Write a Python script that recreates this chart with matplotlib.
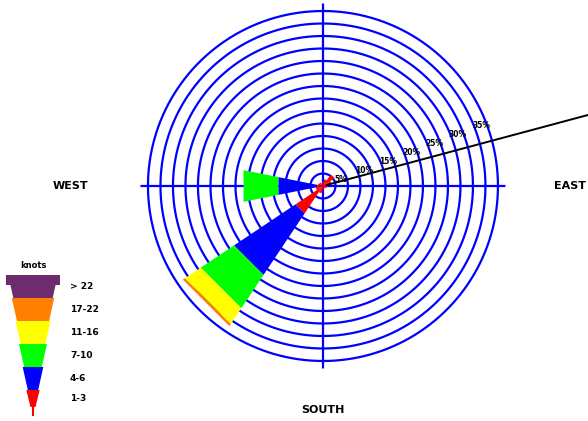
import numpy as np
import matplotlib.pyplot as plt

# wind directions, degrees counterclockwise from east (E, ENE, NE, NNE, N, ...)
directions = np.arange(0, 360, 22.5)
speed_bins = ["1-3", "4-6", "7-10", "11-16", "17-22", "> 22"]
bin_colors = ["#ff0000", "#0000ff", "#00ff00", "#ffff00", "#ff8000", "#6e2c6e"]

# percent of time per direction for each speed bin
pct_1_3 = [1.0, 1.8, 2.8, 1.4, 0.8, 0.6, 0.8, 1.0, 1.2, 1.5, 6.6, 1.5, 0.8, 0.5, 0.6, 0.8]
pct_4_6 = [0, 0, 0, 0, 0, 0, 0, 0, 7.9, 0, 14.8, 0, 0, 0, 0, 0]
pct_7_10 = [0, 0, 0, 0, 0, 0, 0, 0, 7.1, 0, 8.0, 0, 0, 0, 0, 0]
pct_11_16 = [0, 0, 0, 0, 0, 0, 0, 0, 0, 0, 3.8, 0, 0, 0, 0, 0]
pct_17_22 = [0, 0, 0, 0, 0, 0, 0, 0, 0, 0, 0.5, 0, 0, 0, 0, 0]
pct_over_22 = [0] * 16

ring_values = np.arange(2.5, 35.1, 2.5)
ring_labels = ["5%", "10%", "15%", "20%", "25%", "30%", "35%"]
mean_wind_dir = 15  # degrees, black indicator line

fig = plt.figure(figsize=(5.88, 4.21), dpi=100)
fig.patch.set_facecolor("white")

# ---- rose -------------------------------------------------------------
ax = fig.add_axes([0.2389, 0.1247, 0.6207, 0.867], projection="polar")
ax.set_ylim(0, 36.5)
ax.axis("off")

theta = np.linspace(0, 2 * np.pi, 361)
for r in ring_values:
    ax.plot(theta, np.full_like(theta, r), color="#0000ff", lw=1.6, zorder=1)
for a in (0, 90, 180, 270):
    ax.plot([np.radians(a)] * 2, [0, 36.5], color="#0000ff", lw=1.6, zorder=1)

half = np.radians(22.5) / 2
stack = np.array([pct_1_3, pct_4_6, pct_7_10, pct_11_16, pct_17_22, pct_over_22])
for d, col in zip(directions, stack.T):
    t = np.radians(d)
    base = 0.0
    for val, color in zip(col, bin_colors):
        if val > 0:
            top = base + val
            ax.fill([t - half, t - half, t + half, t + half],
                    [base, top, top, base], color=color, lw=0, zorder=3)
            base = top

for i, lab in enumerate(ring_labels):
    ax.text(np.radians(21), 5 * (i + 1) - 1.1, lab, fontsize=5.5,
            fontweight="bold", ha="center", va="center", zorder=5)

ax.plot([np.radians(mean_wind_dir)] * 2, [0.8, 60], color="black", lw=1.4,
        zorder=6, clip_on=False)

ax.text(np.pi, 50.5, "WEST", fontsize=8, fontweight="bold", ha="center",
        va="center", clip_on=False)
ax.text(0, 49.5, "EAST", fontsize=8, fontweight="bold", ha="center",
        va="center", clip_on=False)
ax.text(1.5 * np.pi, 44.8, "SOUTH", fontsize=8, fontweight="bold",
        ha="center", va="center", clip_on=False)

# ---- speed legend (tapered stack) -------------------------------------
lg = fig.add_axes([0, 0, 110 / 588, 160 / 421])
lg.set_xlim(0, 110)
lg.set_ylim(0, 160)
lg.axis("off")

cx, band_h, y0 = 33, 23, 31


def half_width(y):
    return 2.5 + (y - 14) * 20.5 / 130


for i, (lab, color) in enumerate(zip(speed_bins, bin_colors)):
    top = y0 + band_h * i
    bot = 14 if i == 0 else top - band_h
    wt, wb = half_width(top) + 1.5, half_width(bot)
    lg.fill([cx - wb, cx - wt, cx + wt, cx + wb], [bot, top, top, bot],
            color=color, lw=0)
    lg.text(70, (top + bot) / 2, lab, fontsize=6.5, fontweight="bold",
            va="center", ha="left")
    if i == 0:
        lg.plot([cx, cx], [6, bot], color=color, lw=1.5)
    if i == len(speed_bins) - 1:
        wl = wt + 2
        lg.fill([cx - wl, cx - wl, cx + wl, cx + wl],
                [top - 10, top, top, top - 10], color=color, lw=0)

lg.text(cx, 155, "knots", fontsize=6, fontweight="bold", ha="center",
        va="center")

fig.savefig("out.png", dpi=100)
